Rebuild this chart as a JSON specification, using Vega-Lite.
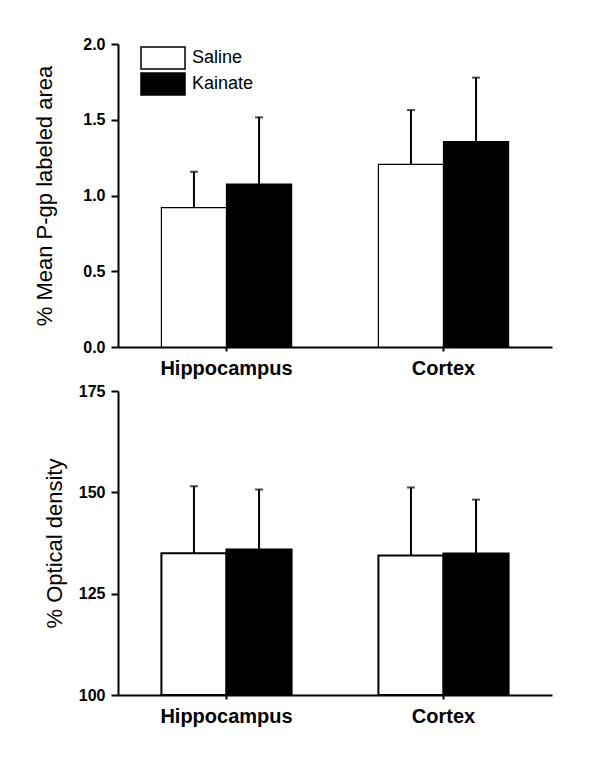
{
  "$schema": "https://vega.github.io/schema/vega-lite/v6.json",
  "padding": {"left": 33, "top": 36, "right": 5, "bottom": 5},
  "background": "white",
  "spacing": 5,
  "config": {
    "font": "Liberation Sans",
    "view": {"stroke": null},
    "axis": {"domainColor": "black", "domainWidth": 2, "tickColor": "black", "tickWidth": 2, "grid": false, "labelColor": "black", "titleColor": "black", "labelFont": "Liberation Sans", "titleFont": "Liberation Sans"}
  },
  "datasets": {
    "pgp": [
      {"region": "Hippocampus", "group": "Saline", "mean": 0.92, "upper": 1.157},
      {"region": "Hippocampus", "group": "Kainate", "mean": 1.076, "upper": 1.516},
      {"region": "Cortex", "group": "Saline", "mean": 1.206, "upper": 1.564},
      {"region": "Cortex", "group": "Kainate", "mean": 1.355, "upper": 1.778}
    ],
    "od": [
      {"region": "Hippocampus", "group": "Saline", "mean": 135.0, "upper": 151.5},
      {"region": "Hippocampus", "group": "Kainate", "mean": 135.9, "upper": 150.7},
      {"region": "Cortex", "group": "Saline", "mean": 134.4, "upper": 151.2},
      {"region": "Cortex", "group": "Kainate", "mean": 134.9, "upper": 148.2}
    ]
  },
  "vconcat": [
    {
      "width": 434,
      "height": 303,
      "data": {"name": "pgp"},
      "encoding": {
        "x": {"field": "region", "type": "nominal", "sort": ["Hippocampus", "Cortex"],
          "scale": {"paddingInner": 0.4, "paddingOuter": 0.2},
          "axis": {"title": null, "labelAngle": 0, "labelFontSize": 20, "labelFontWeight": "bold", "tickSize": 4, "labelPadding": 7}},
        "xOffset": {"field": "group", "type": "nominal", "sort": ["Saline", "Kainate"], "scale": {"paddingInner": 0, "paddingOuter": 0}}
      },
      "layer": [
        {
          "mark": {"type": "bar", "stroke": "black", "strokeWidth": 1.2},
          "encoding": {
            "y": {"field": "mean", "type": "quantitative", "scale": {"domain": [0, 2], "nice": false},
              "axis": {"title": "% Mean P-gp labeled area", "titleFontSize": 22, "titleFontWeight": "normal", "titlePadding": 26, "values": [0, 0.5, 1, 1.5, 2], "format": ".1f", "labelFontSize": 16, "labelFontWeight": "bold", "tickSize": 7, "labelPadding": 6}},
            "fill": {"field": "group", "type": "nominal", "sort": ["Saline", "Kainate"],
              "scale": {"domain": ["Saline", "Kainate"], "range": ["white", "black"]},
              "legend": {"title": null, "orient": "none", "legendX": 33, "legendY": 2, "symbolType": "M-2,-1H2V1H-2Z", "symbolSize": 484, "symbolStrokeColor": "black", "symbolStrokeWidth": 1.5, "labelFontSize": 18, "labelFont": "Liberation Sans", "labelColor": "black", "labelOffset": 17, "rowPadding": -4}}
          }
        },
        {
          "mark": {"type": "rule", "color": "black", "strokeWidth": 2},
          "encoding": {"y": {"field": "mean", "type": "quantitative"}, "y2": {"field": "upper"}}
        },
        {
          "mark": {"type": "tick", "color": "black", "thickness": 2, "size": 8},
          "encoding": {"y": {"field": "upper", "type": "quantitative"}}
        }
      ]
    },
    {
      "width": 434,
      "height": 304,
      "data": {"name": "od"},
      "encoding": {
        "x": {"field": "region", "type": "nominal", "sort": ["Hippocampus", "Cortex"],
          "scale": {"paddingInner": 0.4, "paddingOuter": 0.2},
          "axis": {"title": null, "labelAngle": 0, "labelFontSize": 20, "labelFontWeight": "bold", "tickSize": 4, "labelPadding": 7}},
        "xOffset": {"field": "group", "type": "nominal", "sort": ["Saline", "Kainate"], "scale": {"paddingInner": 0, "paddingOuter": 0}}
      },
      "layer": [
        {
          "mark": {"type": "bar", "stroke": "black", "strokeWidth": 2},
          "encoding": {
            "y": {"field": "mean", "type": "quantitative", "scale": {"domain": [100, 175], "zero": false, "nice": false},
              "axis": {"title": "% Optical density", "titleFontSize": 22, "titleFontWeight": "normal", "titlePadding": 12, "values": [100, 125, 150, 175], "labelFontSize": 16, "labelFontWeight": "bold", "tickSize": 7, "labelPadding": 6}},
            "y2": {"datum": 100},
            "fill": {"field": "group", "type": "nominal",
              "scale": {"domain": ["Saline", "Kainate"], "range": ["white", "black"]},
              "legend": null}
          }
        },
        {
          "mark": {"type": "rule", "color": "black", "strokeWidth": 2},
          "encoding": {"y": {"field": "mean", "type": "quantitative"}, "y2": {"field": "upper"}}
        },
        {
          "mark": {"type": "tick", "color": "black", "thickness": 2, "size": 8},
          "encoding": {"y": {"field": "upper", "type": "quantitative"}}
        }
      ]
    }
  ],
  "resolve": {"scale": {"fill": "independent"}, "legend": {"fill": "independent"}}
}
